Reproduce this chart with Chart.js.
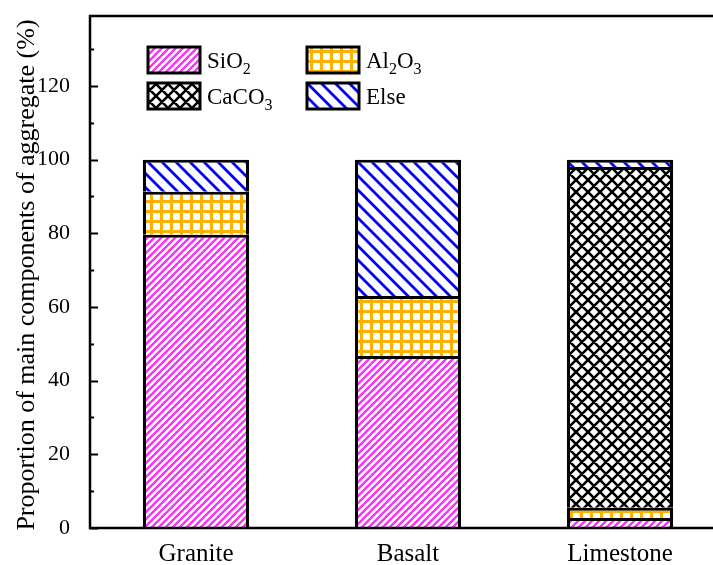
<!DOCTYPE html>
<html>
<head>
<meta charset="utf-8">
<script src="https://cdn.jsdelivr.net/npm/chart.js@4"></script>
<style>
  html, body { margin: 0; padding: 0; background: #fff; overflow: hidden; }
  #wrap { width: 730px; height: 565px; }
</style>
</head>
<body>
<div id="wrap"><canvas id="chart"></canvas></div>
<script>
// data
const categories = ['Granite', 'Basalt', 'Limestone'];
const sio2 = [79.6, 46.7, 2.7];
const al2o3 = [11.7, 16.3, 2.8];
const caco3 = [null, null, 92.5];
const other = [8.7, 37.0, 2.0];
const yTicks = [0, 20, 40, 60, 80, 100, 120];

const FONT = "'Liberation Serif', 'Times New Roman', serif";

// hatch patterns
function makeTile(size, draw) {
  const c = document.createElement('canvas');
  c.width = size; c.height = size;
  const g = c.getContext('2d');
  g.fillStyle = '#fff';
  g.fillRect(0, 0, size, size);
  draw(g, size);
  return document.createElement('canvas').getContext('2d').createPattern(c, 'repeat');
}
function diag(color, size, lw, up) {
  return makeTile(size, (g, s) => {
    g.strokeStyle = color; g.lineWidth = lw; g.lineCap = 'square';
    g.beginPath();
    for (const k of [-s, 0, s]) {
      if (up) { g.moveTo(k, s); g.lineTo(k + s, 0); }
      else { g.moveTo(k, 0); g.lineTo(k + s, s); }
    }
    g.stroke();
  });
}
const patSi = diag('#f733f7', 7, 2.4, true);
const patElse = diag('#0000ff', 14, 2.8, false);
const patAl = makeTile(10, (g, s) => {
  g.fillStyle = '#ffb000';
  g.fillRect(0, 0, 3, s);
  g.fillRect(0, 0, s, 3);
});
const patCa = makeTile(12, (g, s) => {
  g.strokeStyle = '#000'; g.lineWidth = 2.6;
  g.beginPath();
  for (const k of [-s, 0, s]) {
    g.moveTo(k, s); g.lineTo(k + s, 0);
    g.moveTo(k, 0); g.lineTo(k + s, s);
  }
  g.stroke();
});

// frame, inward ticks, y title and legend with subscripts
const decor = {
  id: 'decor',
  afterDraw(chart) {
    const { ctx, chartArea: a, scales } = chart;
    ctx.save();
    ctx.strokeStyle = '#000';
    ctx.lineWidth = 2.5;
    ctx.strokeRect(a.left, a.top, a.right - a.left, a.bottom - a.top);

    ctx.lineWidth = 2;
    for (let v = 0; v <= 130; v += 10) {
      const y = Math.round(scales.y.getPixelForValue(v)) + 0.5;
      const len = v % 20 === 0 ? 8 : 4;
      ctx.beginPath();
      ctx.moveTo(a.left, y);
      ctx.lineTo(a.left + len, y);
      ctx.stroke();
    }

    ctx.fillStyle = '#000';
    ctx.font = '26px ' + FONT;
    ctx.textAlign = 'center';
    ctx.textBaseline = 'middle';
    ctx.translate(27, 275);
    ctx.rotate(-Math.PI / 2);
    ctx.fillText('Proportion of main components of aggregate (%)', 0, 0);
    ctx.restore();

    const items = [
      { pat: patSi, parts: [['SiO', 0], ['2', 1]], x: 148, y: 47 },
      { pat: patAl, parts: [['Al', 0], ['2', 1], ['O', 0], ['3', 1]], x: 307, y: 47 },
      { pat: patCa, parts: [['CaCO', 0], ['3', 1]], x: 148, y: 83 },
      { pat: patElse, parts: [['Else', 0]], x: 307, y: 83 },
    ];
    ctx.save();
    items.forEach(it => {
      ctx.fillStyle = it.pat;
      ctx.fillRect(it.x, it.y, 52, 26);
      ctx.strokeStyle = '#000';
      ctx.lineWidth = 3;
      ctx.strokeRect(it.x, it.y, 52, 26);
      let tx = it.x + 59;
      const base = it.y + 21;
      ctx.fillStyle = '#000';
      ctx.textAlign = 'left';
      ctx.textBaseline = 'alphabetic';
      it.parts.forEach(([t, sub]) => {
        ctx.font = (sub ? '16px ' : '23px ') + FONT;
        ctx.fillText(t, tx, sub ? base + 6 : base);
        tx += ctx.measureText(t).width;
      });
    });
    ctx.restore();
  }
};

const mk = (label, data, pat) => ({
  label, data,
  backgroundColor: pat,
  borderColor: '#000',
  borderWidth: 3,
  borderSkipped: 'start',
  categoryPercentage: 1,
  barPercentage: 0.5,
});

new Chart(document.getElementById('chart'), {
  type: 'bar',
  data: {
    labels: categories,
    datasets: [
      mk('SiO2', sio2, patSi),
      mk('Al2O3', al2o3, patAl),
      mk('CaCO3', caco3, patCa),
      mk('Else', other, patElse),
    ]
  },
  options: {
    responsive: true,
    maintainAspectRatio: false,
    animation: false,
    events: [],
    layout: { padding: { top: 16, right: 4, left: 0, bottom: 0 } },
    plugins: { legend: { display: false }, tooltip: { enabled: false } },
    scales: {
      x: {
        stacked: true,
        grid: { display: false },
        border: { display: false },
        ticks: { color: '#000', font: { family: FONT, size: 25 }, padding: 3 },
        afterFit: s => { s.height = 37; s.paddingLeft = 0; s.paddingRight = 0; }
      },
      y: {
        stacked: true,
        min: 0,
        max: 139,
        grid: { display: false },
        border: { display: false },
        afterBuildTicks: s => { s.ticks = yTicks.map(v => ({ value: v })); },
        ticks: { color: '#000', font: { family: FONT, size: 22 }, padding: 12 },
        afterFit: s => { s.width = 90; s.paddingTop = 0; s.paddingBottom = 0; }
      }
    }
  },
  plugins: [decor]
});
</script>
</body>
</html>
